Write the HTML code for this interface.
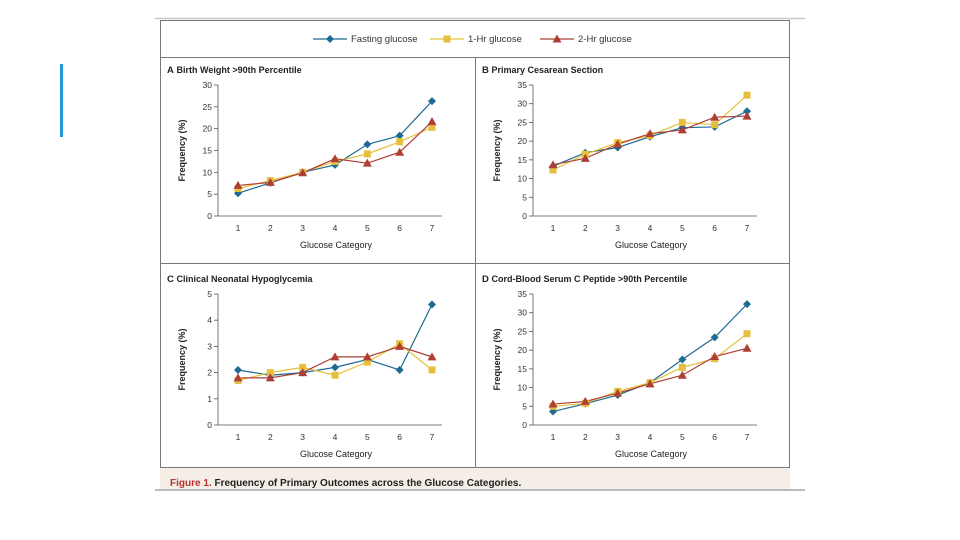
<!DOCTYPE html>
<html><head><meta charset="utf-8"><style>
body{margin:0;background:#fff;width:960px;height:540px;overflow:hidden;font-family:"Liberation Sans",sans-serif}
</style></head><body>
<svg id="fig" width="960" height="540" style="position:absolute;left:0;top:0">
<rect x="60" y="64" width="3" height="73" fill="#1e9ad6"/>
<line x1="155" y1="18.5" x2="805" y2="18.5" stroke="#c8c8c8" stroke-width="1.5"/>
<rect x="160.5" y="20.5" width="629" height="447" fill="#fff" stroke="#777"/>
<line x1="160" y1="57.5" x2="790" y2="57.5" stroke="#777"/>
<line x1="160" y1="263.5" x2="790" y2="263.5" stroke="#777"/>
<line x1="475.5" y1="57" x2="475.5" y2="468" stroke="#777"/>
<rect x="160" y="468" width="630" height="21" fill="#f4eee6"/>
<line x1="155" y1="490" x2="805" y2="490" stroke="#bbb" stroke-width="2"/>
<text x="170" y="486" font-size="10" font-weight="bold" fill="#222"><tspan fill="#b8312f">Figure 1.</tspan> Frequency of Primary Outcomes across the Glucose Categories.</text>
<g id="legend"></g>
<g id="charts"></g>
</svg>
<script>
const categories=[1,2,3,4,5,6,7];
const seriesNames=["Fasting glucose","1-Hr glucose","2-Hr glucose"];
const aFasting=[5.2,7.6,10,11.7,16.4,18.4,26.3];
const aOneHr=[6.3,8.1,10,12.5,14.2,17,20.3];
const aTwoHr=[7,7.7,9.9,13.1,12.1,14.6,21.6];
const bFasting=[13.3,16.9,18.3,21.2,23.6,23.8,28];
const bOneHr=[12.3,16.5,19.6,21.5,25,24.4,32.3];
const bTwoHr=[13.7,15.4,19.2,22,23,26.4,26.7];
const cFasting=[2.1,1.9,2.0,2.2,2.5,2.1,4.6];
const cOneHr=[1.7,2.0,2.2,1.9,2.4,3.1,2.1];
const cTwoHr=[1.8,1.8,2.0,2.6,2.6,3.0,2.6];
const dFasting=[3.6,5.7,8,11.3,17.5,23.4,32.3];
const dOneHr=[5,5.8,9,11.3,15.4,17.7,24.4];
const dTwoHr=[5.6,6.3,8.5,11,13.3,18.3,20.5];
const ticksA=[0,5,10,15,20,25,30];
const ticksB=[0,5,10,15,20,25,30,35];
const ticksC=[0,1,2,3,4,5];
const ticksD=[0,5,10,15,20,25,30,35];

const NS="http://www.w3.org/2000/svg";
const colors=["#1f6a92","#e6c03c","#ad3f34"];
function mk(tag,attrs,parent){const e=document.createElementNS(NS,tag);for(const k in attrs)e.setAttribute(k,attrs[k]);parent.appendChild(e);return e;}
function marker(type,x,y,c,parent){
  let m;
  if(type===0) m=mk("polygon",{points:`${x},${y-4} ${x+4},${y} ${x},${y+4} ${x-4},${y}`,fill:c},parent);
  else if(type===1) m=mk("rect",{x:x-3.5,y:y-3.5,width:7,height:7,fill:c},parent);
  else m=mk("polygon",{points:`${x},${y-4.5} ${x+4.5},${y+3.5} ${x-4.5},${y+3.5}`,fill:c},parent);
  return m;
}
// legend
const lg=document.getElementById("legend");
const legX=[313,430,540];
seriesNames.forEach((n,i)=>{
  const g=mk("g",{},lg);
  
  
  mk("line",{x1:legX[i],y1:39,x2:legX[i]+34,y2:39,stroke:colors[i],"stroke-width":1.3},g);
  marker(i,legX[i]+17,39,colors[i],g);
  const t=mk("text",{x:legX[i]+38,y:42,"font-size":9.5,fill:"#333"},g);t.textContent=n;
});
const panels=[
 {id:"a",letter:"A",title:"Birth Weight >90th Percentile",ox:0,oy:0,ticks:ticksA,max:30,data:[aFasting,aOneHr,aTwoHr]},
 {id:"b",letter:"B",title:"Primary Cesarean Section",ox:315,oy:0,ticks:ticksB,max:35,data:[bFasting,bOneHr,bTwoHr]},
 {id:"c",letter:"C",title:"Clinical Neonatal Hypoglycemia",ox:0,oy:209,ticks:ticksC,max:5,data:[cFasting,cOneHr,cTwoHr]},
 {id:"d",letter:"D",title:"Cord-Blood Serum C Peptide >90th Percentile",ox:315,oy:209,ticks:ticksD,max:35,data:[dFasting,dOneHr,dTwoHr]}
];
const ch=document.getElementById("charts");
panels.forEach(p=>{
  const g=mk("g",{},ch);
  
  
  const axL=218+p.ox, top=85+p.oy, bot=216+p.oy;
  const xs=c=>238+p.ox+(c-1)*(432-238)/6;
  const ys=v=>bot-(v/p.max)*(bot-top);
  const tt=mk("text",{x:167+p.ox,y:73+p.oy,"font-size":9.5,fill:"#222"},g);
  tt.innerHTML=`<tspan font-weight="bold">${p.letter}</tspan>  <tspan font-weight="bold" font-size="9">${p.title}</tspan>`;
  
  
  mk("line",{x1:axL,y1:top,x2:axL,y2:bot,stroke:"#555","stroke-width":0.8},g);
  mk("line",{x1:axL,y1:bot,x2:442+p.ox,y2:bot,stroke:"#555","stroke-width":0.8},g);
  p.ticks.forEach(v=>{
    mk("line",{x1:axL-4,y1:ys(v),x2:axL,y2:ys(v),stroke:"#555","stroke-width":0.8},g);
    const t=mk("text",{x:axL-6,y:ys(v)+3,"font-size":8.5,"text-anchor":"end",fill:"#333"},g);t.textContent=v;
    
    
  });
  categories.forEach(c=>{
    const t=mk("text",{x:xs(c),y:bot+15,"font-size":8.5,"text-anchor":"middle",fill:"#333"},g);t.textContent=c;
    
    
  });
  const xt=mk("text",{x:336+p.ox,y:bot+32,"font-size":9,"text-anchor":"middle",fill:"#222"},g);xt.textContent="Glucose Category";
  
  
  const yt=mk("text",{x:0,y:0,"font-size":9,"font-weight":"bold","text-anchor":"middle",fill:"#222",transform:`translate(${185+p.ox},${(top+bot)/2}) rotate(-90)`},g);yt.textContent="Frequency (%)";
  
  
  p.data.forEach((arr,i)=>{
    const pts=arr.map((v,k)=>xs(categories[k])+","+ys(v)).join(" ");
    const l=mk("polyline",{points:pts,fill:"none",stroke:colors[i],"stroke-width":1.2},g);
    
    
  });
  p.data.forEach((arr,i)=>{
    arr.forEach((v,k)=>{
      const m=marker(i,xs(categories[k]),ys(v),colors[i],g);
      
      
    });
  });
});
</script>
</body></html>
